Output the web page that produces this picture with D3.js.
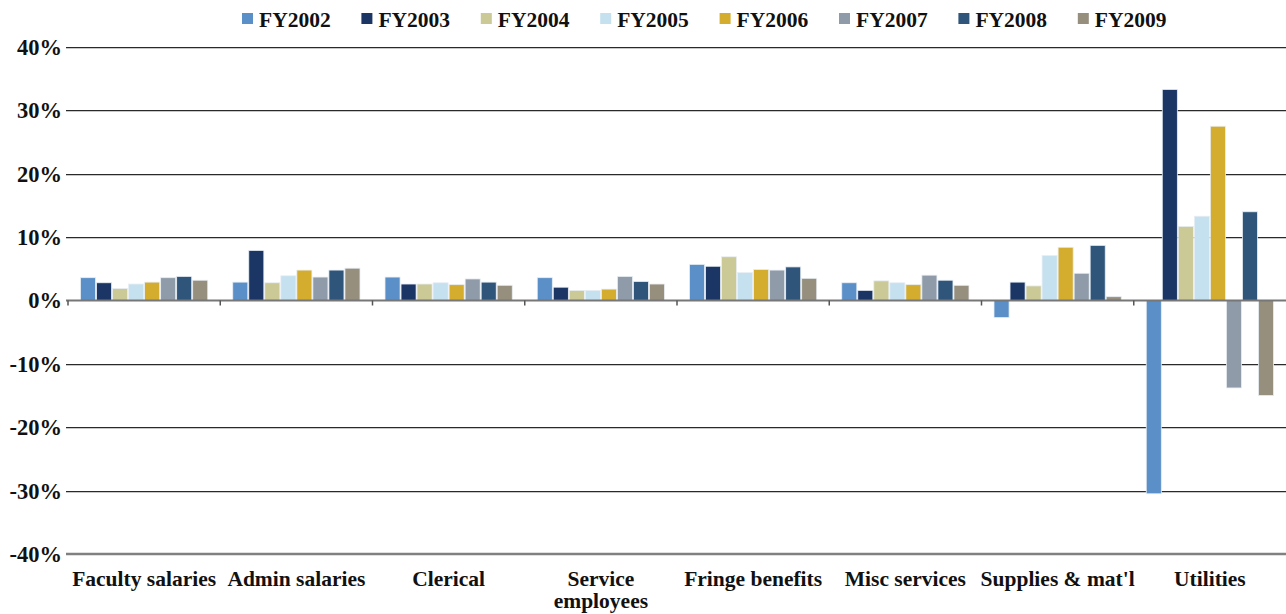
<!DOCTYPE html>
<html><head><meta charset="utf-8">
<script src="https://cdn.jsdelivr.net/npm/d3@7"></script>
<style>
html,body{margin:0;padding:0;background:#fff;}
text{font-family:"Liberation Serif","Times New Roman",serif;font-weight:bold;fill:#111;}
</style></head>
<body><svg id="chart" width="1286" height="614"></svg>
<script>
const categories = ["Faculty salaries","Admin salaries","Clerical","Service employees","Fringe benefits","Misc services","Supplies & mat'l","Utilities"];
const seriesNames = ["FY2002","FY2003","FY2004","FY2005","FY2006","FY2007","FY2008","FY2009"];
const seriesColors = ["#5b8fc7","#1b3565","#cbc995","#c5e0ee","#d4ad2f","#8f9ba8","#30557a","#978f7e"];
const FY2002 = [3.6, 2.9, 3.7, 3.6, 5.7, 2.8, -2.7, -30.5];
const FY2003 = [2.8, 7.9, 2.6, 2.1, 5.4, 1.6, 2.9, 33.3];
const FY2004 = [1.9, 2.8, 2.6, 1.6, 6.9, 3.1, 2.3, 11.7];
const FY2005 = [2.6, 3.9, 2.8, 1.6, 4.4, 2.8, 7.1, 13.3];
const FY2006 = [2.9, 4.8, 2.5, 1.8, 4.9, 2.5, 8.4, 27.5];
const FY2007 = [3.6, 3.7, 3.4, 3.8, 4.8, 4.0, 4.3, -13.8];
const FY2008 = [3.8, 4.8, 2.9, 3.0, 5.3, 3.2, 8.7, 14.0];
const FY2009 = [3.2, 5.1, 2.4, 2.6, 3.5, 2.4, 0.6, -15.0];
const seriesValues = [FY2002,FY2003,FY2004,FY2005,FY2006,FY2007,FY2008,FY2009];
const yTicks = [-40,-30,-20,-10,0,10,20,30,40];

(function () {
const svg = d3.select("#chart");
const mLeft = 68, mRight = 1286, mTop = 47, mBottom = 554;

const x0 = d3.scaleBand().domain(categories).range([mLeft, mRight]).padding(0);
const x1 = d3.scaleBand().domain(seriesNames).range([0, x0.bandwidth()]).paddingInner(0.06).paddingOuter(0.78);
const y = d3.scaleLinear().domain([-40, 40]).range([mBottom, mTop]);

// gridlines
const grid = svg.append("g");
yTicks.filter(t => t !== 0 && t !== -40).forEach(t => {
  grid.append("line").attr("x1", 66).attr("x2", mRight).attr("y1", Math.round(y(t)) + 1.5).attr("y2", Math.round(y(t)) + 1.5)
    .attr("stroke", "#c8c8c8").attr("stroke-width", 1);
  grid.append("line").attr("x1", 66).attr("x2", mRight).attr("y1", Math.round(y(t)) + 0.5).attr("y2", Math.round(y(t)) + 0.5)
    .attr("stroke", "#2a2a2a").attr("stroke-width", 1);
});
grid.append("line").attr("x1", 66).attr("x2", mRight).attr("y1", y(-40)).attr("y2", y(-40))
  .attr("stroke", "#808080").attr("stroke-width", 2.5);

// y labels
svg.append("g").selectAll("text").data(yTicks).join("text")
  .attr("x", 62).attr("y", d => y(d)).attr("dy", "0.35em")
  .attr("text-anchor", "end").style("font-size", "22.5px")
  .text(d => d + "%");

// bars
const data = [];
categories.forEach((c, i) => seriesNames.forEach((s, j) => data.push({c, s, j, v: seriesValues[j][i]})));
svg.append("g").selectAll("rect").data(data).join("rect")
  .attr("x", d => x0(d.c) + x1(d.s))
  .attr("width", x1.bandwidth())
  .attr("y", d => y(Math.max(0, d.v)))
  .attr("height", d => Math.abs(y(d.v) - y(0)))
  .attr("fill", d => seriesColors[d.j])
  .attr("stroke", "#e8eef4").attr("stroke-width", 0.8);

// zero line
svg.append("line").attr("x1", 66).attr("x2", mRight).attr("y1", y(0)).attr("y2", y(0))
  .attr("stroke", "#777").attr("stroke-width", 2);
svg.append("g").selectAll("line").data(categories).join("line")
  .attr("x1", d => x0(d)).attr("x2", d => x0(d))
  .attr("y1", y(0)).attr("y2", y(0) + 5)
  .attr("stroke", "#555").attr("stroke-width", 1.5);

// category labels
const catG = svg.append("g");
categories.forEach(c => {
  const cx = x0(c) + x0.bandwidth() / 2;
  const lines = c === "Service employees" ? ["Service", "employees"] : [c];
  const t = catG.append("text").attr("x", cx).attr("y", 586).attr("text-anchor", "middle").style("font-size", "21.5px");
  lines.forEach((l, k) => t.append("tspan").attr("x", cx).attr("dy", k === 0 ? 0 : 22).text(l));
});

// legend
const leg = svg.append("g");
seriesNames.forEach((s, j) => {
  const lx = 242 + j * 119.4;
  leg.append("rect").attr("x", lx).attr("y", 13).attr("width", 11).attr("height", 11).attr("fill", seriesColors[j]);
  leg.append("text").attr("x", lx + 17).attr("y", 27).style("font-size", "21.5px").text(s);
});
})();
</script></body></html>
